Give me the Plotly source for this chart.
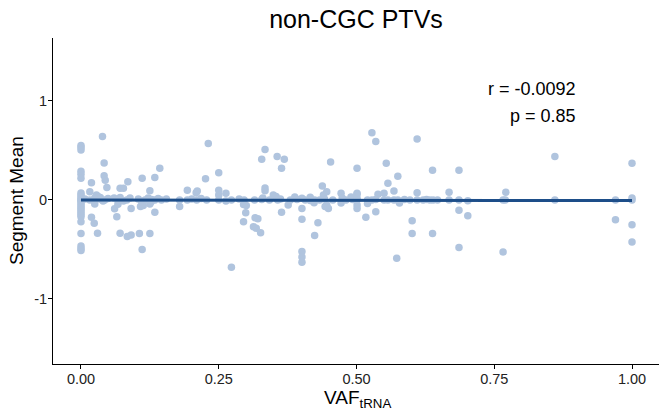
import numpy as np
import plotly.graph_objects as go

# tRNA variant allele fraction vs. copy-number segment mean, non-CGC PTVs
vaf_trna = [
    # VAF = 0 column
    0.0, 0.0, 0.0, 0.0, 0.0, 0.0, 0.0, 0.0, 0.0, 0.0, 0.0, 0.0, 0.0,
    0.0, 0.0, 0.0, 0.0, 0.0, 0.0, 0.0, 0.0, 0.0, 0.0, 0.0, 0.0,
    # low VAF
    0.016, 0.019, 0.019, 0.024, 0.030, 0.025, 0.028, 0.031, 0.035, 0.039,
    0.042, 0.042, 0.044, 0.047, 0.071, 0.077, 0.085, 0.061, 0.065, 0.071,
    0.084, 0.091, 0.106, 0.111, 0.111, 0.125, 0.134, 0.143, 0.134, 0.125,
    0.091, 0.067, 0.108, 0.113, 0.125, 0.127,
    0.007, 0.016, 0.025, 0.034, 0.040, 0.043, 0.049, 0.060, 0.067, 0.071,
    0.077, 0.083, 0.089, 0.104, 0.110, 0.116, 0.122, 0.128, 0.134, 0.140,
    0.146, 0.155,
    # 0.15 - 0.33
    0.179, 0.193, 0.209, 0.211, 0.226, 0.231, 0.250, 0.250, 0.250, 0.263,
    0.273, 0.295, 0.300, 0.299, 0.295, 0.316, 0.321, 0.313, 0.318, 0.326,
    0.328, 0.334, 0.334, 0.334, 0.330,
    0.179, 0.193, 0.201, 0.210, 0.218, 0.228, 0.250, 0.263, 0.273, 0.287,
    0.296, 0.315, 0.328,
    # 0.33 - 0.50
    0.349, 0.354, 0.356, 0.369, 0.364, 0.364, 0.376, 0.388, 0.401, 0.401,
    0.401, 0.401, 0.401, 0.401, 0.416, 0.424, 0.430, 0.423, 0.438, 0.446,
    0.440, 0.446, 0.449, 0.443, 0.453, 0.472, 0.472, 0.490,
    0.342, 0.357, 0.362, 0.380, 0.392, 0.407, 0.416, 0.424, 0.433, 0.442,
    0.457, 0.474, 0.481, 0.493, 0.501,
    # 0.50 - 0.65
    0.501, 0.501, 0.501, 0.501, 0.501, 0.501, 0.520, 0.517, 0.528, 0.535,
    0.535, 0.539, 0.550, 0.554, 0.557, 0.568, 0.575, 0.573, 0.578, 0.601,
    0.601, 0.610, 0.610, 0.638, 0.638,
    0.520, 0.528, 0.535, 0.550, 0.557, 0.568, 0.575, 0.587, 0.597, 0.610,
    0.621, 0.627, 0.633, 0.639, 0.647,
    # 0.65 - 1.00
    0.668, 0.668, 0.686, 0.686, 0.686, 0.686, 0.702, 0.702, 0.766, 0.770,
    0.771, 0.766, 0.860, 0.860, 0.970, 0.970, 1.0, 1.0, 1.0, 1.0, 1.0,
]

segment_mean = [
    # VAF = 0 column
    0.55, 0.53, 0.505, 0.29, 0.26, 0.22, 0.07, 0.05, 0.03, 0.01, 0.0, -0.01, -0.03,
    -0.05, -0.07, -0.09, -0.11, -0.13, -0.15, -0.17, -0.22, -0.34, -0.465, -0.49, -0.51,
    # low VAF
    0.084, 0.175, -0.175, -0.235, -0.337, -0.04, 0.05, 0.034, 0.024, 0.64,
    0.374, 0.245, 0.20, 0.125, 0.118, 0.118, 0.185, -0.09, -0.17, -0.337,
    -0.37, -0.354, -0.34, -0.50, 0.22, 0.094, 0.226, 0.32, -0.125, -0.34,
    -0.085, -0.044, -0.067, -0.057, -0.04, -0.02,
    0.01, 0.0, 0.02, 0.01, -0.01, 0.0, 0.015, 0.02, 0.0, 0.025,
    -0.01, 0.0, 0.02, 0.01, -0.015, 0.0, 0.02, 0.005, 0.0, 0.015,
    0.0, 0.01,
    # 0.15 - 0.33
    -0.067, 0.098, 0.074, 0.091, 0.215, 0.57, 0.276, 0.098, 0.05, 0.067,
    -0.68, -0.047, -0.057, -0.13, -0.22, -0.18, -0.19, -0.27, -0.285, -0.33,
    0.41, 0.51, 0.12, 0.094, 0.02,
    0.0, 0.0, 0.01, 0.0, 0.015, 0.0, 0.0, -0.01, 0.0, 0.01,
    0.0, 0.0, 0.005,
    # 0.33 - 0.50
    0.05, 0.034, 0.44, 0.41, 0.32, -0.125, -0.05, 0.03, 0.017, -0.085,
    -0.195, -0.52, -0.576, -0.63, 0.027, -0.36, -0.23, -0.027, 0.14, 0.084,
    0.05, -0.05, -0.085, -0.065, 0.384, 0.067, -0.03, 0.03,
    0.0, 0.0, 0.01, 0.0, 0.005, 0.0, -0.005, 0.0, 0.0, 0.01,
    0.0, 0.02, 0.0, 0.005, 0.0,
    # 0.50 - 0.65
    0.32, 0.067, 0.057, 0.017, -0.05, -0.085, -0.037, -0.175, 0.68, 0.59,
    -0.118, 0.057, 0.067, 0.37, 0.17, 0.09, 0.24, -0.59, -0.03, -0.21,
    -0.34, 0.616, 0.074, 0.30, -0.34,
    0.0, 0.0, 0.005, 0.0, 0.0, 0.0, 0.0, 0.005, 0.0, 0.0,
    0.0, 0.005, 0.0, 0.0, 0.0,
    # 0.65 - 1.00
    0.078, 0.0, 0.30, 0.0, -0.105, -0.48, -0.007, -0.16, 0.0, 0.0,
    0.078, -0.525, 0.44, 0.0, 0.0, -0.20, 0.37, 0.02, 0.0, -0.25, -0.425,
]

x_ticks = [0.0, 0.25, 0.50, 0.75, 1.00]
x_tick_labels = ["0.00", "0.25", "0.50", "0.75", "1.00"]
y_ticks = [-1, 0, 1]
y_tick_labels = ["-1", "0", "1"]

cor_label = "r = -0.0092"
p_label = "p = 0.85"

x = np.array(vaf_trna)
y = np.array(segment_mean)

# least-squares regression line over the observed VAF range
slope, intercept = np.polyfit(x, y, 1)
fit_x = np.array([x.min(), x.max()])
fit_y = intercept + slope * fit_x

FONT = "Liberation Sans, Arial, Helvetica, sans-serif"

fig = go.Figure()
fig.add_trace(go.Scatter(
    x=x, y=y, mode="markers",
    marker=dict(size=7.5, color="#b0c4de", line=dict(width=0)),
    hoverinfo="x+y", showlegend=False,
))
fig.add_trace(go.Scatter(
    x=fit_x, y=fit_y, mode="lines",
    line=dict(color="#1d4e89", width=3),
    hoverinfo="skip", showlegend=False,
))

axis_style = dict(
    showline=True, linecolor="black", linewidth=1.1,
    ticks="outside", ticklen=4, tickwidth=1.1, tickcolor="black",
    tickfont=dict(family=FONT, size=14.5, color="#222222"),
    ticklabelstandoff=-2,
    showgrid=False, zeroline=False, mirror=False,
)

fig.update_layout(
    width=659, height=414,
    margin=dict(l=53, r=0, t=38, b=50),
    paper_bgcolor="white", plot_bgcolor="white",
    font=dict(family=FONT, color="black"),
    title=dict(
        text="non-CGC PTVs", x=0.5, xref="paper", xanchor="center",
        y=1 - 19 / 414, yref="container", yanchor="middle",
        font=dict(family=FONT, size=25, color="black"),
    ),
    xaxis=dict(range=[-0.0508, 1.049], tickvals=x_ticks, ticktext=x_tick_labels,
               **axis_style),
    yaxis=dict(range=[-1.657, 1.636], tickvals=y_ticks, ticktext=y_tick_labels,
               **axis_style),
    annotations=[
        dict(text="Segment Mean", textangle=-90, xref="paper", yref="paper",
             x=-0.061, y=0.5, xanchor="center", yanchor="middle", showarrow=False,
             font=dict(family=FONT, size=19, color="black")),
        dict(text="VAF<sub>tRNA</sub>", xref="paper", yref="paper",
             x=0.5017, y=-0.064, xanchor="center", yanchor="top", showarrow=False,
             font=dict(family=FONT, size=19, color="black")),
        dict(text=cor_label, xref="x", yref="y", x=0.902, y=1.12,
             xanchor="right", yanchor="middle", showarrow=False,
             font=dict(family=FONT, size=18, color="black")),
        dict(text=p_label, xref="x", yref="y", x=0.902, y=0.85,
             xanchor="right", yanchor="middle", showarrow=False,
             font=dict(family=FONT, size=18, color="black")),
    ],
)

fig.write_html("out.html")
